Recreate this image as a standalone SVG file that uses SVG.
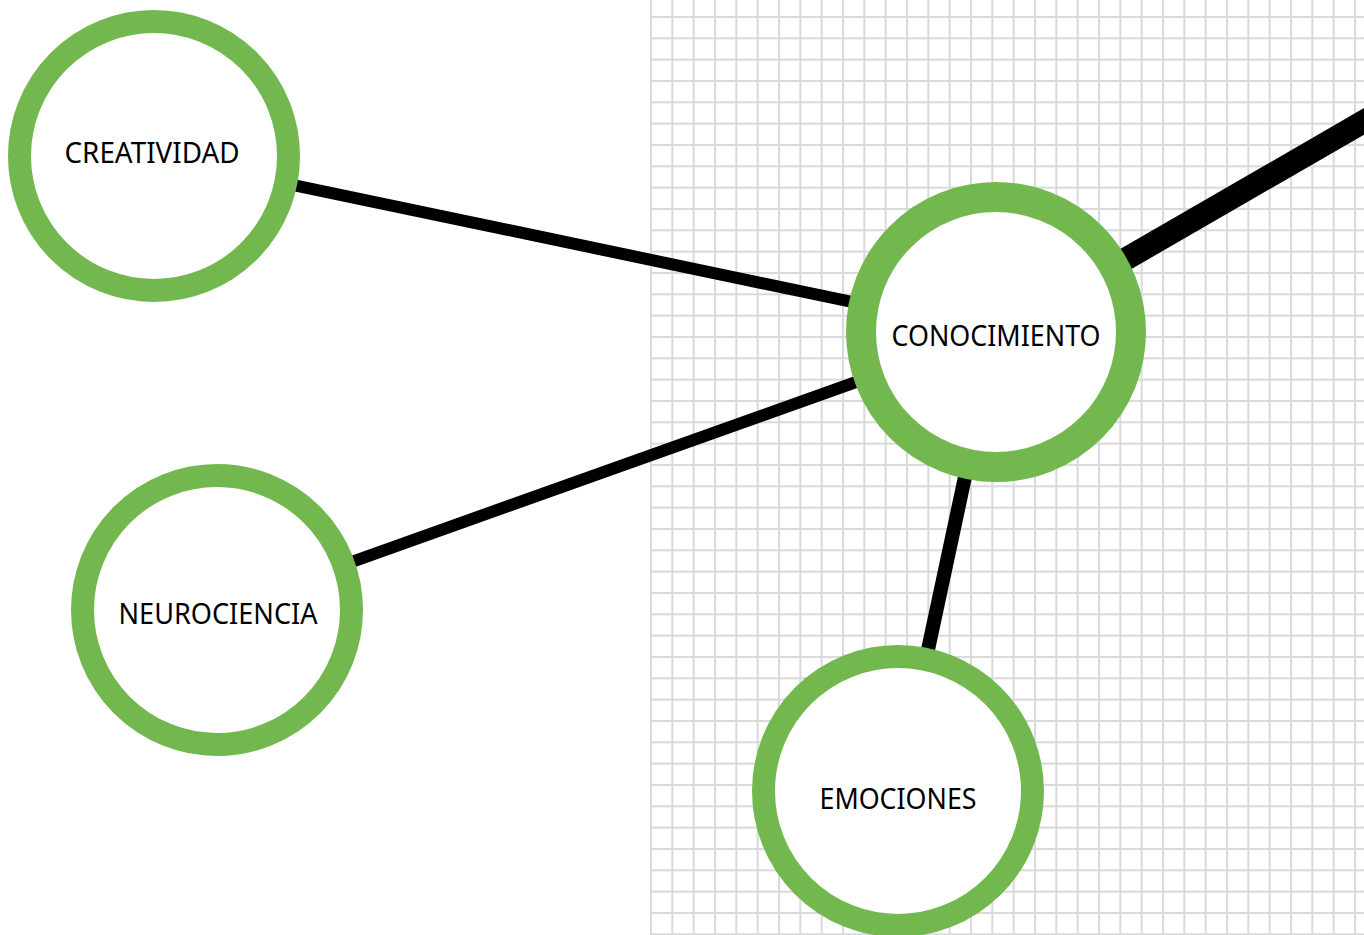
<svg xmlns="http://www.w3.org/2000/svg" width="1364" height="935" viewBox="0 0 1364 935">
  <style>
    .ring { fill: #ffffff; stroke: #72b84f; }
    .lbl { font-family: "Noto Sans", "Open Sans", "DejaVu Sans", sans-serif; font-size: 29px; fill: #000000; text-anchor: middle; }
    .edge { stroke: #000000; fill: none; stroke-linecap: butt; }
  </style>
  <defs>
    <pattern id="grid" patternUnits="userSpaceOnUse" x="650" y="16" width="21.3333" height="21.3333">
      <rect x="0" y="0" width="21.3333" height="21.3333" fill="#ffffff"/>
      <rect x="0" y="0" width="2" height="21.3333" fill="#d9d9d9"/>
      <rect x="0" y="0" width="21.3333" height="2" fill="#d9d9d9"/>
    </pattern>
  </defs>
  <rect x="0" y="0" width="1364" height="935" fill="#ffffff"/>
  <rect id="grid-bg" x="650" y="0" width="714" height="935" fill="url(#grid)"/>

  <g id="connectors">
    <line class="edge" x1="154" y1="156" x2="996" y2="332" stroke-width="12"/>
    <line class="edge" x1="217" y1="610" x2="996" y2="332" stroke-width="12"/>
    <line class="edge" x1="996" y1="332" x2="898" y2="790" stroke-width="14"/>
    <line class="edge" x1="996" y1="334" x2="1420" y2="89" stroke-width="23"/>
  </g>

  <g id="node-creatividad">
    <circle class="ring" cx="154" cy="156" r="134.5" stroke-width="23"/>
    <text class="lbl" x="152" y="163" textLength="175" lengthAdjust="spacingAndGlyphs">CREATIVIDAD</text>
  </g>
  <g id="node-conocimiento">
    <circle class="ring" cx="996" cy="332" r="135" stroke-width="30"/>
    <text class="lbl" x="996" y="346" textLength="209" lengthAdjust="spacingAndGlyphs">CONOCIMIENTO</text>
  </g>
  <g id="node-neurociencia">
    <circle class="ring" cx="217" cy="610" r="134.5" stroke-width="23"/>
    <text class="lbl" x="218" y="624" textLength="199" lengthAdjust="spacingAndGlyphs">NEUROCIENCIA</text>
  </g>
  <g id="node-emociones">
    <circle class="ring" cx="898" cy="791" r="134.5" stroke-width="23"/>
    <text class="lbl" x="898" y="809" textLength="157" lengthAdjust="spacingAndGlyphs">EMOCIONES</text>
  </g>
</svg>
